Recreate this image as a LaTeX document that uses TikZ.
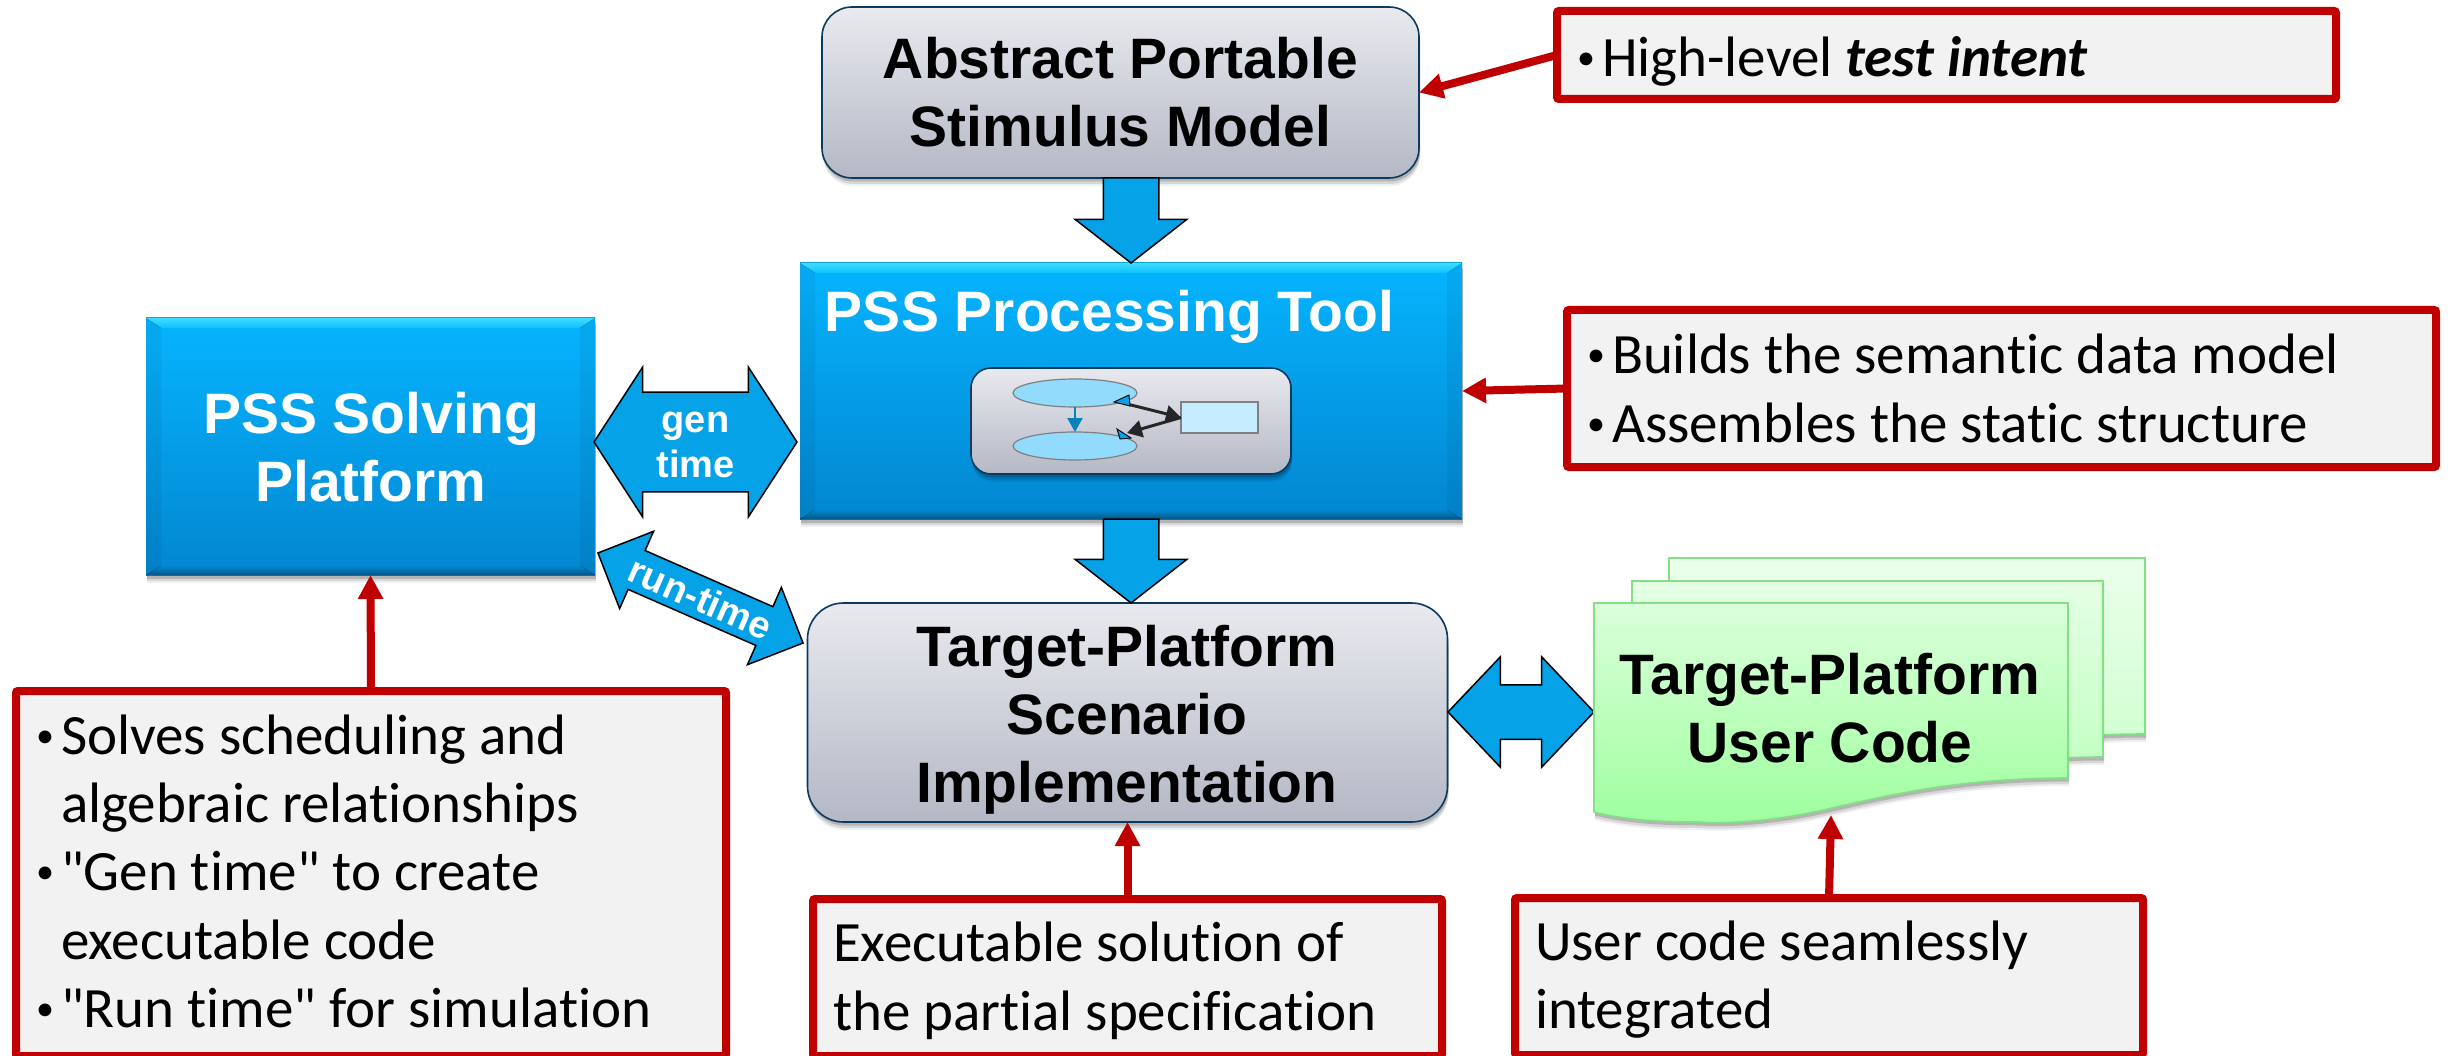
\documentclass[tikz,border=0pt]{standalone}
\usepackage{fontspec}
\setmainfont{Liberation Sans}
\newfontfamily\calfont[Ligatures=NoCommon]{Carlito}
\usetikzlibrary{shapes.geometric,shapes.arrows,shadows,calc,arrows.meta}
\definecolor{redline}{HTML}{C00000}
\definecolor{notefill}{HTML}{F2F2F2}
\definecolor{arrowblue}{HTML}{05A2E8}
\definecolor{navyline}{HTML}{0B3A60}
\definecolor{greytop}{HTML}{E9EAEF}
\definecolor{greybot}{HTML}{B4B8C5}
\definecolor{bluetop}{HTML}{06B4FF}
\definecolor{bluebot}{HTML}{0386D0}
\definecolor{bevellight}{HTML}{3FDCFF}
\definecolor{bevelmid}{HTML}{0CC0FF}
\definecolor{ellfill}{HTML}{92DBFD}
\definecolor{rectfill}{HTML}{C6ECFF}
\definecolor{docline}{HTML}{84E084}
\newcommand\bul{\makebox[30pt][l]{\hspace*{5pt}\raisebox{7pt}{\fontsize{36pt}{36pt}\selectfont •}}}
\newcommand\ind{\hspace*{30pt}}
\newcommand\topstrut[1]{\rule{0pt}{#1pt}}
\newcommand\botstrut[1]{\rule[-#1pt]{0pt}{#1pt}}
\newcommand\bevel[1]{%
  \fill[top color=bevellight,bottom color=bevelmid] (#1.north west) -- (#1.north east) -- ++(-15,10) -- ($(#1.north west)+(15,10)$) -- cycle;
  \fill[top color=bluebot,bottom color=bluebot!65!black] (#1.south west) -- (#1.south east) -- ++(-15,-9) -- ($(#1.south west)+(15,-9)$) -- cycle;
  \fill[black,opacity=.05] (#1.north west) -- ($(#1.north west)+(15,10)$) -- ($(#1.south west)+(15,-9)$) -- (#1.south west) -- cycle;
  \fill[black,opacity=.05] (#1.north east) -- ($(#1.north east)+(-15,10)$) -- ($(#1.south east)+(-15,-9)$) -- (#1.south east) -- cycle;
}
% #1 left x, #2 top y, #3 right x, #4 bottom y at right, #5 style
\newcommand\docshape[5]{%
  \path[#5] (#1,#2) -- (#3,#2) -- (#3,#4)
    .. controls ({#3-.228*(#3-#1)},#4) and ({#3-.376*(#3-#1)},{#4+17}) .. ({#3-.498*(#3-#1)},{#4+30})
    .. controls ({#3-.618*(#3-#1)},{#4+44}) and ({#3-.734*(#3-#1)},{#4+46}) .. ({#3-.776*(#3-#1)},{#4+44})
    .. controls ({#3-.861*(#3-#1)},{#4+44}) and ({#3-.935*(#3-#1)},{#4+42}) .. (#1,{#4+34}) -- cycle;
}
\tikzset{
  softshadow/.style={
    drop shadow={shadow xshift=1pt,shadow yshift=-8pt,opacity=.06,fill=black},
    drop shadow={shadow xshift=1pt,shadow yshift=-6pt,opacity=.10,fill=black},
    drop shadow={shadow xshift=1pt,shadow yshift=-3.5pt,opacity=.16,fill=black}},
  boxbase/.style={rectangle,inner sep=0pt,outer sep=0pt,align=center},
  greybox/.style={boxbase,rounded corners=#1,draw=navyline,line width=1.6pt,top color=greytop,bottom color=greybot,softshadow},
  bluebox/.style={boxbase,top color=bluetop,bottom color=bluebot,softshadow},
  bigtext/.style={font=\fontsize{57pt}{68pt}\selectfont\bfseries},
  whitetext/.style={bigtext,text=white},
  darrow/.style={single arrow,shape border rotate=270,draw=black,line width=1.5pt,fill=arrowblue,inner xsep=27pt,inner ysep=0pt,outer sep=0pt,
    single arrow head extend=28pt,single arrow tip angle=104,minimum width=110pt},
  dblarrow/.style={double arrow,draw=black,line width=1.5pt,fill=arrowblue,inner xsep=0pt,outer sep=0pt,text=white,align=center,
    font=\fontsize{38pt}{45pt}\selectfont\bfseries},
  callout/.style={rectangle,draw=redline,line width=8pt,rounded corners=2pt,fill=notefill,inner ysep=0pt,outer sep=0pt,align=left,
    font=\fontsize{57pt}{68.3pt}\selectfont\calfont,
    execute at begin node={\spaceskip=.226em\relax\xspaceskip=.226em\relax}},
  redarrow/.style={draw=redline,line width=8pt,-{Triangle[length=24pt,width=24pt,fill=redline]}},
  docpage/.style={draw=docline,line width=1.6pt,softshadow},
  minitri/.style={draw=black,line width=.9pt,fill=arrowblue},
  miniblob/.style={draw=gray,line width=1.2pt,inner sep=0pt,outer sep=0pt},
}
\begin{document}
\begin{tikzpicture}[x=1pt,y=-1pt]
\path[use as bounding box,clip] (0,0) rectangle (2448,1056);
\fill[white] (0,0) rectangle (2448,1056);

\node[bluebox,minimum width=449pt,minimum height=257pt] (solving) at (370.5,446.5) {};
\bevel{solving}
\node[whitetext,anchor=center,align=center] (solvingtext) at (371,447) {PSS Solving\\Platform};

\node[bluebox,minimum width=662pt,minimum height=256pt] (tool) at (1131,391) {};
\bevel{tool}
\node[whitetext,anchor=base] (tooltext) at (1109.5,332) {PSS Processing Tool};

\node[greybox=30pt,minimum width=597pt,minimum height=171pt,bigtext] (abstract) at (1120.5,92.5) {Abstract Portable\\Stimulus Model};
\node[greybox=36pt,minimum width=640pt,minimum height=219pt] (target) at (1127.5,712.5) {};
\node[bigtext,align=center] (targettext) at (1127,719.5) {Target-Platform\\Scenario\\Implementation};

\node[darrow,minimum height=85pt,anchor=tip] (arrowa) at (tool.north) {};
\node[darrow,minimum height=84pt,anchor=tail] (arrowb) at (tool.south) {};

% mini diagram inside the tool
\node[greybox=20pt,minimum width=320pt,minimum height=106pt] (inner) at (1131,421) {};
\node[ellipse,miniblob,fill=ellfill,minimum width=124pt,minimum height=28pt] (ellup) at (1075,393) {};
\node[ellipse,miniblob,fill=ellfill,minimum width=124pt,minimum height=28pt] (elldown) at (1075,446) {};
\node[rectangle,miniblob,fill=rectfill,minimum width=77pt,minimum height=31pt] (minirect) at (1219.5,417.5) {};
\draw[draw=arrowblue!80!black,line width=2.5pt,-{Triangle[length=14pt,width=15pt]}] (ellup.south) -- (elldown.north);
\draw[black!85,line width=3pt,-{Triangle[length=15pt,width=17pt]}] ($(ellup)+(52,11)$) -- (minirect.west);
\draw[black!85,line width=3pt,-{Triangle[length=15pt,width=17pt]}] (minirect.west) -- ($(elldown)+(52,-13)$);
\path[minitri] ($(ellup)+(39,9)$) -- ($(ellup)+(54,2)$) -- ($(ellup)+(55,13)$) -- cycle;
\path[minitri] ($(elldown)+(42,-17)$) -- ($(elldown)+(56,-8)$) -- ($(elldown)+(45,-7)$) -- cycle;

% two-way arrows
\node[dblarrow,inner ysep=13pt,minimum height=203pt,minimum width=148pt,double arrow head extend=25pt,double arrow tip angle=114] (gentime) at (695.5,442) {\topstrut{27}gen\\time};
\node[dblarrow,inner ysep=6.5pt,rotate=-23.7,minimum height=224pt,minimum width=82pt,double arrow head extend=21pt,double arrow tip angle=90] (runtime) at (700.5,598) {run-time};
\node[dblarrow,inner ysep=26.5pt,minimum height=146pt,minimum width=109pt,double arrow head extend=28pt,double arrow tip angle=93] (codelink) at (1521,712) {};

% stacked document
\docshape{1669}{558}{2145}{734}{docpage,top color=green!8!white,bottom color=green!20!white}
\docshape{1632}{581}{2103}{757}{docpage,top color=green!10!white,bottom color=green!26!white}
\docshape{1594}{603}{2068}{778}{docpage,top color=green!14!white,bottom color=green!38!white}
\node[bigtext,align=center] (codetext) at (1830,708.5) {Target-Platform\\User Code};
\coordinate (docbottom) at (1831,815);

% callouts
\node[callout,inner xsep=15pt,text width=749pt,minimum height=88pt] (absnote) at (1946.5,55)
  {\topstrut{52}\bul High-level \textbf{\textit{test intent}}};
\node[callout,inner xsep=15pt,text width=839pt,minimum height=157pt] (toolnote) at (2001.5,388.5)
  {\bul Builds the semantic data model\\\bul Assembles the static structure};
\node[callout,inner xsep=15pt,text width=680pt,minimum height=365pt] (solvenote) at (371,873.5)
  {\bul Solves scheduling and\\\ind algebraic relationships\\\bul "Gen time" to create\\\ind executable code\\\bul "Run time" for simulation\botstrut{5}};
\node[callout,inner xsep=20pt,text width=589pt,minimum height=157pt] (targetnote) at (1127.5,977.5)
  {\topstrut{46}Executable solution of\\the partial specification};
\node[callout,inner xsep=20pt,text width=588pt,minimum height=157pt] (codenote) at (1829,976.5)
  {\topstrut{46}User code seamlessly\\integrated};

\draw[redarrow] (absnote.west) -- (abstract.east);
\draw[redarrow] (toolnote.west) -- (tool.east);
\draw[redarrow] (solvenote.north) -- (solving.south);
\draw[redarrow] (targetnote.north) -- (target.south);
\draw[redarrow] (codenote.north) -- (docbottom);
\end{tikzpicture}
\end{document}
